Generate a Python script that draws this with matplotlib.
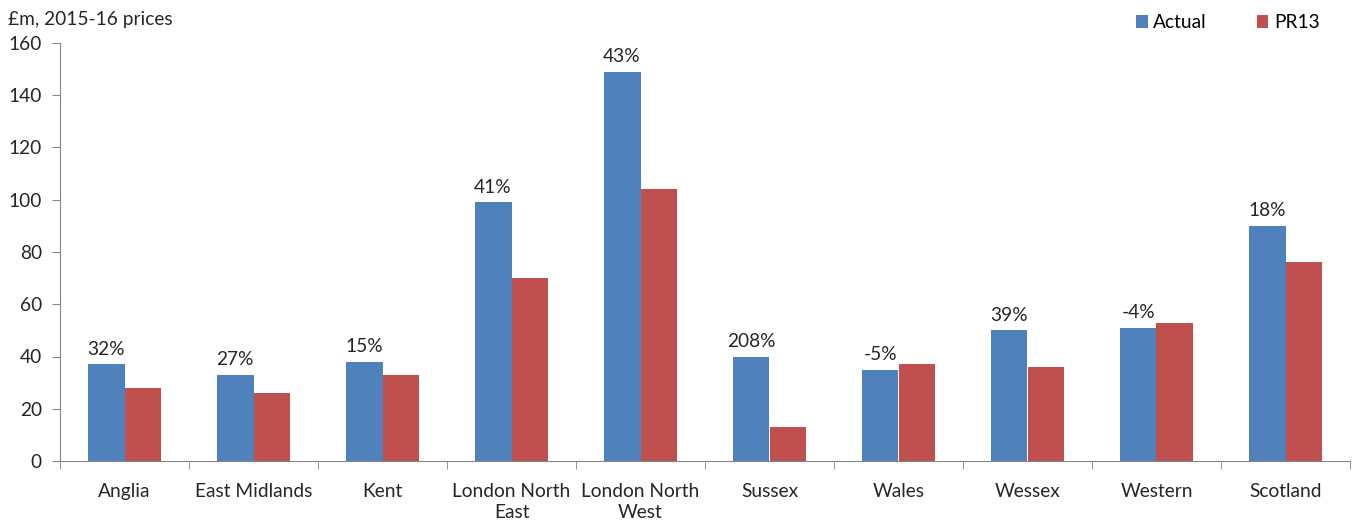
import matplotlib.pyplot as plt
import numpy as np

plt.rcParams['font.family'] = ['Lato', 'DejaVu Sans']

regions = ['Anglia', 'East Midlands', 'Kent', 'London North\nEast', 'London North\nWest',
           'Sussex', 'Wales', 'Wessex', 'Western', 'Scotland']
actual = [37, 33, 38, 99, 149, 40, 35, 50, 51, 90]
pr13 = [28, 26, 33, 70, 104, 13, 37, 36, 53, 76]
pct_labels = ['32%', '27%', '15%', '41%', '43%', '208%', '-5%', '39%', '-4%', '18%']

blue = '#4F81BD'
red = '#C0504D'
axis_grey = '#868686'
text_col = '#262626'
fs = 13.8

fig = plt.figure(figsize=(13.55, 5.25), dpi=100)
ax = fig.add_axes([60 / 1355, 1 - 461 / 525, 1290 / 1355, (461 - 43) / 525])

x = np.arange(len(regions))
w = 1 / 3.5
ax.bar(x - w / 2, actual, w, color=blue, label='Actual')
ax.bar(x + w / 2, pr13, w, color=red, label='PR13')

# percentage difference above each Actual bar
for i, (v, t) in enumerate(zip(actual, pct_labels)):
    ax.text(i - w / 2, v + 2.5, t, ha='center', va='bottom', fontsize=fs, color=text_col)

ax.set_xlim(-0.5, len(regions) - 0.5)
ax.set_ylim(0, 160)
ax.set_yticks(range(0, 161, 20))
ax.tick_params(axis='y', labelsize=fs, length=6, pad=7, color=axis_grey, labelcolor=text_col)

# category labels sit between the boundary ticks
ax.set_xticks(x)
ax.set_xticklabels(regions, fontsize=fs, color=text_col, linespacing=1.3)
ax.tick_params(axis='x', length=0, pad=16)
ax.set_xticks(np.arange(-0.5, len(regions) + 0.5, 1), minor=True)
ax.tick_params(axis='x', which='minor', length=6, color=axis_grey)

for s in ['top', 'right']:
    ax.spines[s].set_visible(False)
for s in ['left', 'bottom']:
    ax.spines[s].set_color(axis_grey)

fig.text(8 / 1355, 1 - 20 / 525, '£m, 2015-16 prices', fontsize=fs, color=text_col, va='center')

ax.legend(loc='upper right', bbox_to_anchor=(0.99, 1.11), ncol=2, frameon=False,
          fontsize=fs, handlelength=0.6, handleheight=0.6, columnspacing=2.6,
          handletextpad=0.3)

fig.savefig('out.png', dpi=100)
